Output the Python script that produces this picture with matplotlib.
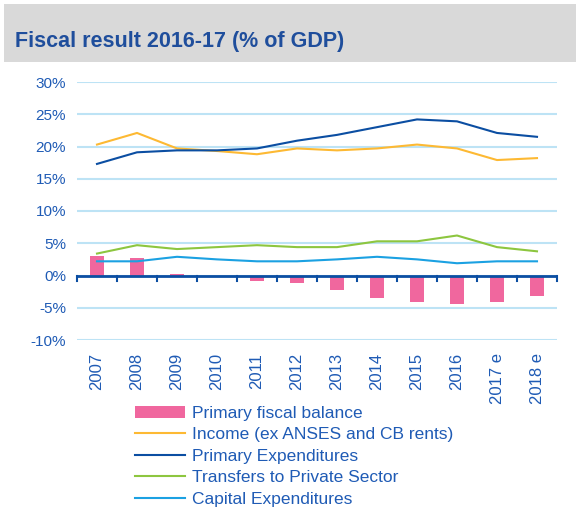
import matplotlib
matplotlib.use("Agg")
import matplotlib.pyplot as plt
from matplotlib.patches import Rectangle
import numpy as np

plt.rcParams['font.family'] = ['Liberation Sans', 'DejaVu Sans']

# datos (% del PIB)
anios = ['2007', '2008', '2009', '2010', '2011', '2012', '2013', '2014',
         '2015', '2016', '2017 e', '2018 e']
balance_primario = [3.0, 2.7, 0.3, -0.1, -0.8, -1.1, -2.3, -3.5, -4.1, -4.4, -4.1, -3.2]
ingresos = [20.3, 22.1, 19.7, 19.3, 18.8, 19.7, 19.4, 19.7, 20.3, 19.7, 17.9, 18.2]
gasto_primario = [17.3, 19.1, 19.4, 19.4, 19.7, 20.9, 21.8, 23.0, 24.2, 23.9, 22.1, 21.5]
transferencias = [3.4, 4.7, 4.1, 4.4, 4.7, 4.4, 4.4, 5.3, 5.3, 6.2, 4.4, 3.75]
gasto_capital = [2.2, 2.2, 2.9, 2.5, 2.2, 2.2, 2.5, 2.9, 2.5, 1.9, 2.2, 2.2]

azul_texto = '#1F5BB5'
rosa = '#F0679E'
naranja = '#FDB933'
azul_osc = '#0B4EA2'
verde = '#8DC63F'
celeste = '#1BA1E2'

fig = plt.figure(figsize=(5.76, 5.13), dpi=100)

# banda gris del titulo
fig.patches.append(Rectangle((4 / 576, 1 - 62 / 513), 572 / 576, 58 / 513,
                             transform=fig.transFigure, facecolor='#D9D9D9',
                             edgecolor='none', zorder=0))
fig.text(15 / 576, 1 - 42 / 513, 'Fiscal result 2016-17 (% of GDP)', fontsize=15.5,
         fontweight='bold', color='#1F4E9C', va='center', ha='left')

ax = fig.add_axes([77 / 576, 1 - 340 / 513, 480 / 576, 258 / 513])
x = np.arange(len(anios))

barras = ax.bar(x, balance_primario, width=0.33, color=rosa, zorder=2,
                label='Primary fiscal balance')
l1, = ax.plot(x, ingresos, color=naranja, lw=1.5, zorder=3,
              label='Income (ex ANSES and CB rents)')
l2, = ax.plot(x, gasto_primario, color=azul_osc, lw=1.5, zorder=3,
              label='Primary Expenditures')
l3, = ax.plot(x, transferencias, color=verde, lw=1.5, zorder=3,
              label='Transfers to Private Sector')
l4, = ax.plot(x, gasto_capital, color=celeste, lw=1.5, zorder=3,
              label='Capital Expenditures')

ax.set_xlim(-0.5, len(anios) - 0.5)
ax.set_ylim(-10, 30)
ax.set_yticks(range(-10, 31, 5))
ax.set_yticklabels([f'{v}%' for v in range(-10, 31, 5)])
ax.grid(axis='y', color='#BDE3F5', lw=1.5, zorder=0)
ax.set_axisbelow(True)
for s in ax.spines.values():
    s.set_visible(False)
ax.tick_params(axis='y', length=0, labelsize=11, labelcolor=azul_texto, pad=8)

# eje x en el cero
ax.axhline(0, color=azul_osc, lw=2, zorder=4)
ax.set_xticks(x)
ax.set_xticklabels([])
ax.tick_params(axis='x', length=0)
for b in np.arange(-0.5, len(anios), 1.0):
    ax.plot([b, b], [0, -0.8], color=azul_osc, lw=1.5, zorder=4, clip_on=False)
for i, a in enumerate(anios):
    ax.text(i, -12.0, a, rotation=90, ha='center', va='top', fontsize=12,
            color=azul_texto)

fig.legend(handles=[barras, l1, l2, l3, l4], loc='upper left',
           bbox_to_anchor=(128 / 576, 1 - 399 / 513),
           frameon=False, fontsize=12.5, handlelength=2.9, handletextpad=0.4,
           labelspacing=0.36, labelcolor=azul_texto, borderaxespad=0)

fig.savefig('out.png', dpi=100)
